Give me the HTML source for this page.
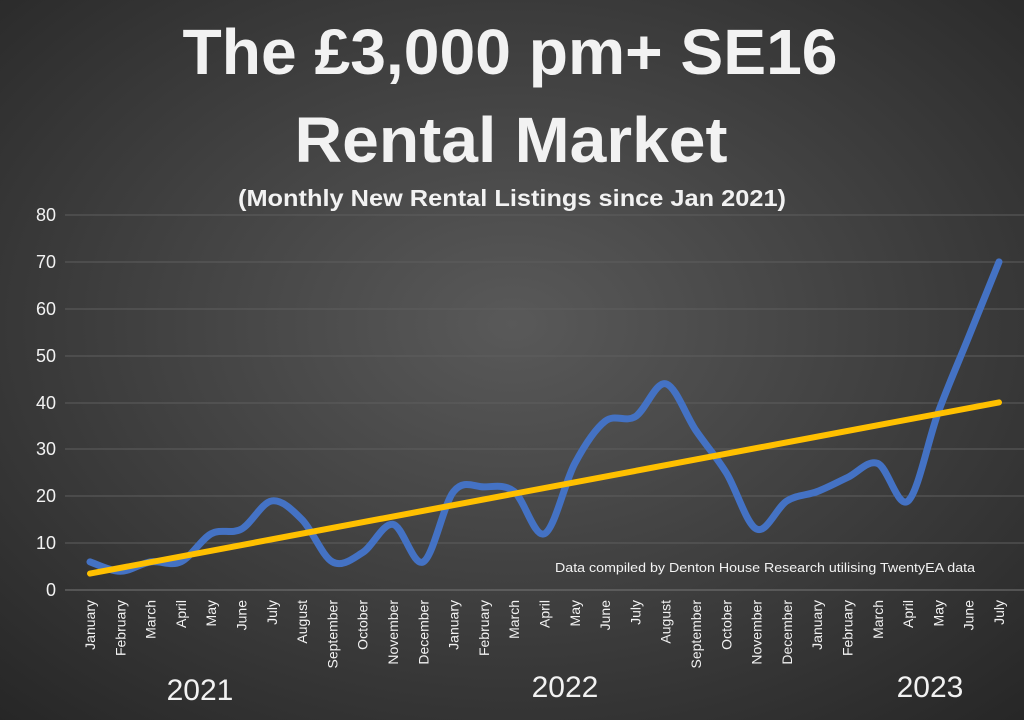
<!DOCTYPE html>
<html><head><meta charset="utf-8"><style>
html,body{margin:0;padding:0;width:1024px;height:720px;overflow:hidden;background:#3a3a3a}
svg{display:block}
text{font-family:"Liberation Sans","DejaVu Sans",sans-serif;fill:#f2f2f2}
</style></head><body>
<svg id="s" width="1024" height="720" viewBox="0 0 1024 720">
<defs><radialGradient id="bg" cx="50%" cy="45%" r="75%">
<stop offset="0" stop-color="#595959"/><stop offset="1" stop-color="#262626"/></radialGradient></defs>
<rect width="1024" height="720" fill="url(#bg)"/>
<g stroke="#5e5e5e" stroke-width="1">
<line x1="65" x2="1024" y1="215" y2="215"/><line x1="65" x2="1024" y1="262" y2="262"/>
<line x1="65" x2="1024" y1="309" y2="309"/><line x1="65" x2="1024" y1="356" y2="356"/>
<line x1="65" x2="1024" y1="403" y2="403"/><line x1="65" x2="1024" y1="449" y2="449"/>
<line x1="65" x2="1024" y1="496" y2="496"/><line x1="65" x2="1024" y1="543" y2="543"/>
<line x1="65" x2="1024" y1="590" y2="590" stroke="#777"/>
</g>
<g font-size="18" text-anchor="end">
<text x="56" y="221">80</text><text x="56" y="268">70</text><text x="56" y="315">60</text>
<text x="56" y="362">50</text><text x="56" y="409">40</text><text x="56" y="455">30</text>
<text x="56" y="502">20</text><text x="56" y="549">10</text><text x="56" y="596">0</text>
</g>
<g font-weight="bold" text-anchor="middle">
<text x="510" y="74" font-size="64" textLength="655" lengthAdjust="spacingAndGlyphs">The £3,000 pm+ SE16</text>
<text x="511" y="162" font-size="64" textLength="433" lengthAdjust="spacingAndGlyphs">Rental Market</text>
<text x="512" y="206" font-size="23" textLength="548" lengthAdjust="spacingAndGlyphs">(Monthly New Rental Listings since Jan 2021)</text>
</g>
<path id="blue" fill="none" stroke="#4472c4" stroke-width="7" stroke-linecap="round"/>
<line x1="90" y1="573.6" x2="999" y2="402.4" stroke="#ffc000" stroke-width="6" stroke-linecap="round"/>
<text x="555" y="572" font-size="13" textLength="420" lengthAdjust="spacingAndGlyphs">Data compiled by Denton House Research utilising TwentyEA data</text>
<g font-size="14" text-anchor="end">
<text transform="translate(95,600) rotate(-90)">January</text>
<text transform="translate(125.3,600) rotate(-90)">February</text>
<text transform="translate(155.6,600) rotate(-90)">March</text>
<text transform="translate(185.9,600) rotate(-90)">April</text>
<text transform="translate(216.2,600) rotate(-90)">May</text>
<text transform="translate(246.5,600) rotate(-90)">June</text>
<text transform="translate(276.8,600) rotate(-90)">July</text>
<text transform="translate(307.1,600) rotate(-90)">August</text>
<text transform="translate(337.4,600) rotate(-90)">September</text>
<text transform="translate(367.7,600) rotate(-90)">October</text>
<text transform="translate(398,600) rotate(-90)">November</text>
<text transform="translate(428.3,600) rotate(-90)">December</text>
<text transform="translate(458.6,600) rotate(-90)">January</text>
<text transform="translate(488.9,600) rotate(-90)">February</text>
<text transform="translate(519.2,600) rotate(-90)">March</text>
<text transform="translate(549.5,600) rotate(-90)">April</text>
<text transform="translate(579.8,600) rotate(-90)">May</text>
<text transform="translate(610.1,600) rotate(-90)">June</text>
<text transform="translate(640.4,600) rotate(-90)">July</text>
<text transform="translate(670.7,600) rotate(-90)">August</text>
<text transform="translate(701,600) rotate(-90)">September</text>
<text transform="translate(731.3,600) rotate(-90)">October</text>
<text transform="translate(761.6,600) rotate(-90)">November</text>
<text transform="translate(791.9,600) rotate(-90)">December</text>
<text transform="translate(822.2,600) rotate(-90)">January</text>
<text transform="translate(852.5,600) rotate(-90)">February</text>
<text transform="translate(882.8,600) rotate(-90)">March</text>
<text transform="translate(913.1,600) rotate(-90)">April</text>
<text transform="translate(943.4,600) rotate(-90)">May</text>
<text transform="translate(973.7,600) rotate(-90)">June</text>
<text transform="translate(1004,600) rotate(-90)">July</text>
</g>
<g font-size="30" text-anchor="middle">
<text x="200" y="700">2021</text><text x="565" y="697">2022</text><text x="930" y="697">2023</text>
</g>
</svg>
<script>
var d=[6,4,6,6,12,13,19,15,6,8,14,6,21,22,21,12,27,36,37,44,34,25,13,19,21,24,27,19,38,54,70];
var p=d.map(function(v,i){return [90+30.3*i,590-v*4.6875];});
var s="M"+p[0][0]+","+p[0][1];
for(var i=0;i<p.length-1;i++){var a=p[i-1]||p[i],b=p[i],c=p[i+1],e=p[i+2]||c;
s+=" C"+(b[0]+(c[0]-a[0])/6)+","+(b[1]+(c[1]-a[1])/6)+" "+(c[0]-(e[0]-b[0])/6)+","+(c[1]-(e[1]-b[1])/6)+" "+c[0]+","+c[1];}
document.getElementById("blue").setAttribute("d",s);
</script>
</body></html>
